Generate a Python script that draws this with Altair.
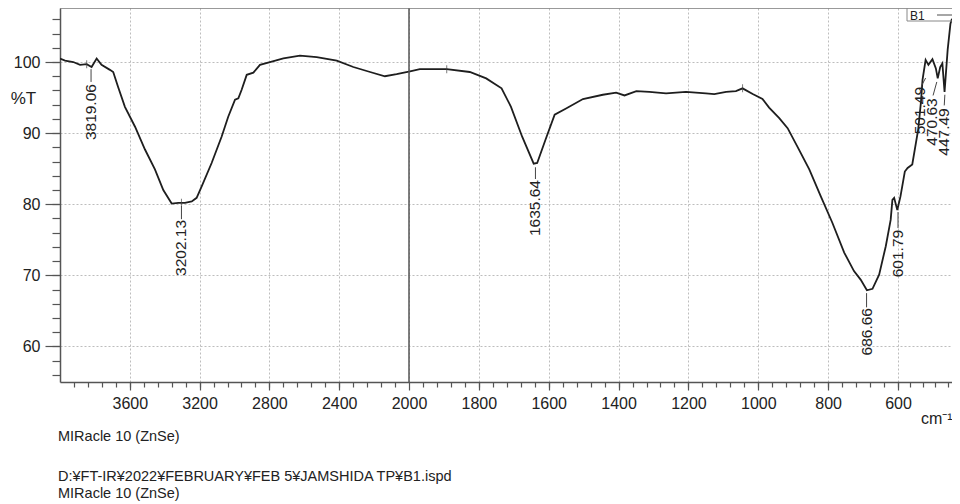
import altair as alt
import pandas as pd

FONT = "Liberation Sans, Arial, sans-serif"

# ---- spectrum (wavenumber cm-1, %T) ----
wavenumber = [4000, 3971, 3924, 3885, 3847, 3819, 3790, 3762, 3714, 3695, 3667, 3628,
              3570, 3513, 3456, 3408, 3360, 3322, 3284, 3245, 3217, 3188, 3131, 3074,
              3036, 2997, 2978, 2959, 2930, 2892, 2854, 2797, 2720, 2625, 2529, 2414,
              2319, 2223, 2138, 2071, 1997, 1969, 1940, 1892, 1826, 1779, 1735, 1708,
              1676, 1643, 1633, 1609, 1583, 1549, 1502, 1445, 1407, 1383, 1349, 1312,
              1264, 1207, 1150, 1126, 1092, 1064, 1045, 1016, 988, 969, 940, 916, 888,
              854, 821, 788, 754, 726, 707, 689, 673, 654, 635, 621, 616, 611, 602, 592,
              578, 569, 554, 535, 526, 521, 511, 502, 489, 478, 472, 464, 457, 450, 440,
              431, 426]
transmittance = [100.5, 100.2, 100.0, 99.6, 99.7, 99.3, 100.5, 99.6, 98.9, 98.6, 96.5, 93.7,
                 90.9, 87.7, 84.9, 82.0, 80.1, 80.2, 80.2, 80.4, 80.9, 82.5, 85.8, 89.5,
                 92.3, 94.7, 94.9, 96.1, 98.2, 98.5, 99.6, 100.0, 100.5, 100.9, 100.7, 100.2,
                 99.3, 98.6, 98.0, 98.3, 98.7, 99.0, 99.0, 99.0, 98.6, 97.7, 96.3, 93.7,
                 89.5, 85.7, 85.8, 89.1, 92.6, 93.5, 94.8, 95.4, 95.7, 95.3, 95.9, 95.8,
                 95.6, 95.8, 95.6, 95.5, 95.8, 95.9, 96.3, 95.5, 94.8, 93.6, 92.1, 90.7, 88.1,
                 84.9, 81.1, 77.4, 73.2, 70.6, 69.4, 67.9, 68.1, 70.1, 74.1, 77.8, 80.6, 80.9,
                 79.2, 81.1, 84.6, 85.1, 85.6, 90.5, 94.4, 97.5, 100.3, 99.6, 100.4, 99.1,
                 97.7, 99.3, 99.8, 95.8, 101.7, 105.4, 106.1]

# ---- peak annotations ----
peak_text = ["3819.06", "3202.13", "1635.64", "686.66", "601.79", "501.49", "470.63", "447.49"]
label_x = [3822, 3304, 1638, 690, 600, 529, 490, 452]
label_T = [96.9, 77.8, 83.4, 65.4, 76.4, 96.5, 94.9, 93.5]
lead_x1 = [3822, 3304, 1638, 690, 600, 511, 475, 449]
lead_T1 = [99.0, 79.75, 85.2, 67.5, 78.9, 97.75, 97.2, 95.4]
lead_x2 = [3822, 3304, 1638, 690, 600, 525, 487, 451]
lead_T2 = [97.2, 77.9, 83.55, 65.5, 76.65, 96.6, 95.3, 93.9]

# small cross markers on the curve
marker_x = [3847, 3304, 1892, 1045]
marker_T = [99.7, 80.2, 99.0, 96.3]

# ---- axis ticks ----
x_major = [3600, 3200, 2800, 2400, 2000, 1800, 1600, 1400, 1200, 1000, 800, 600]
x_minor = list(range(3920, 2000, -80)) + list(range(1960, 420, -40))
y_major = [60, 70, 80, 90, 100]
y_minor = list(range(56, 108, 2))

footer = ["MIRacle 10 (ZnSe)", "D:¥FT-IR¥2022¥FEBRUARY¥FEB 5¥JAMSHIDA TP¥B1.ispd", "MIRacle 10 (ZnSe)"]
legend_label = "B1"
unit_label = "cm⁻¹"
split_at = [2000]

W, H = 892, 374
xscale = alt.Scale(domain=[4000, 2000, 600, 426], range=[0, 349, 838, W], nice=False, zero=False)
yscale = alt.Scale(domain=[55.0, 107.6], nice=False, zero=False)

spec = pd.DataFrame({"wn": wavenumber, "T": transmittance})
peaks = pd.DataFrame({"txt": peak_text, "lx": label_x, "lT": label_T,
                      "x1": lead_x1, "T1": lead_T1, "x2": lead_x2, "T2": lead_T2})
markers = pd.DataFrame({"wn": marker_x, "T": marker_T})

axis_common = dict(labelFont=FONT, labelFontSize=16, labelColor="#222", domainColor="#555",
                   domainWidth=1.5, tickColor="#555", tickWidth=1.2, grid=True,
                   gridDash=[2, 2], gridColor="#bdbdbd", gridWidth=1, format="d")

line = alt.Chart(spec).mark_line(color="#1e1e1e", strokeWidth=1.8, clip=True).encode(
    x=alt.X("wn:Q", scale=xscale,
            axis=alt.Axis(values=x_major, title=None, tickSize=8, labelPadding=5,
                          orient="bottom", labelFlush=False, labelOverlap=False, **axis_common)),
    y=alt.Y("T:Q", scale=yscale,
            axis=alt.Axis(values=y_major, title="%T", titleAngle=0, titleX=-37, titleY=90,
                          titleAlign="center", titleBaseline="middle", titleFont=FONT,
                          titleFontSize=17, titleFontWeight="normal", titleColor="#222",
                          tickSize=15, labelPadding=5, orient="left", **axis_common)),
)

mark_layer = alt.Chart(markers).mark_tick(color="#444", size=8, thickness=1, orient="vertical").encode(
    x=alt.X("wn:Q", scale=xscale,
            axis=alt.Axis(values=x_minor, title=None, labels=False, domain=False, grid=False,
                          tickSize=5, tickColor="#555", tickWidth=1.2, orient="bottom")),
    y=alt.Y("T:Q", scale=yscale,
            axis=alt.Axis(values=y_minor, title=None, labels=False, domain=False, grid=False,
                          tickSize=8, tickColor="#555", tickWidth=1.2, orient="left")),
)

split = alt.Chart(pd.DataFrame({"wn": split_at})).mark_rule(color="#555", strokeWidth=1.5).encode(
    x=alt.X("wn:Q", scale=xscale, axis=None)
)

leads = alt.Chart(peaks).mark_rule(color="#444", strokeWidth=1).encode(
    x=alt.X("x1:Q", scale=xscale, axis=None), x2="x2:Q",
    y=alt.Y("T1:Q", scale=yscale, axis=None), y2="T2:Q",
)

ptext = alt.Chart(peaks).mark_text(angle=270, align="right", baseline="middle", font=FONT,
                                   fontSize=15.5, color="#222").encode(
    x=alt.X("lx:Q", scale=xscale, axis=None),
    y=alt.Y("lT:Q", scale=yscale, axis=None),
    text="txt:N",
)

one = pd.DataFrame({"a": [0]})
top_border = alt.Chart(one).mark_rule(color="#777", strokeWidth=1.5).encode(
    x=alt.value(0), x2=alt.value(W), y=alt.value(0))
leg_box = alt.Chart(one).mark_rule(color="#888", strokeWidth=1).encode(
    x=alt.value(847), x2=alt.value(W), y=alt.value(13))
leg_box_l = alt.Chart(one).mark_rule(color="#888", strokeWidth=1).encode(
    x=alt.value(847), y=alt.value(0), y2=alt.value(13))
leg_txt = alt.Chart(one).mark_text(text=legend_label, align="left", baseline="middle",
                                   font=FONT, fontSize=12, color="#222").encode(
    x=alt.value(850), y=alt.value(7.5))
leg_line = alt.Chart(one).mark_rule(color="#888", strokeWidth=1.5).encode(
    x=alt.value(877), x2=alt.value(895), y=alt.value(7))

unit_txt = alt.Chart(one).mark_text(text=unit_label, align="left", baseline="middle",
                                    font=FONT, fontSize=16, color="#222").encode(
    x=alt.value(861), y=alt.value(411))

foot_y = [429, 469, 486]
foots = [alt.Chart(one).mark_text(text=t, align="left", baseline="middle", font=FONT,
                                  fontSize=14.5, color="#222").encode(
    x=alt.value(-2), y=alt.value(fy)) for t, fy in zip(footer, foot_y)]

chart = alt.layer(line, mark_layer, split, leads, ptext, top_border, leg_box, leg_box_l,
                  leg_txt, leg_line, unit_txt, *foots).resolve_axis(
    x="independent", y="independent").properties(
    width=W, height=H,
    autosize=alt.AutoSizeParams(type="none"),
    padding={"left": 52, "top": 0, "right": 0, "bottom": 120},
    background="white",
).configure_view(stroke=None)

chart.save("out.html", embed_options={"renderer": "svg", "actions": False})
